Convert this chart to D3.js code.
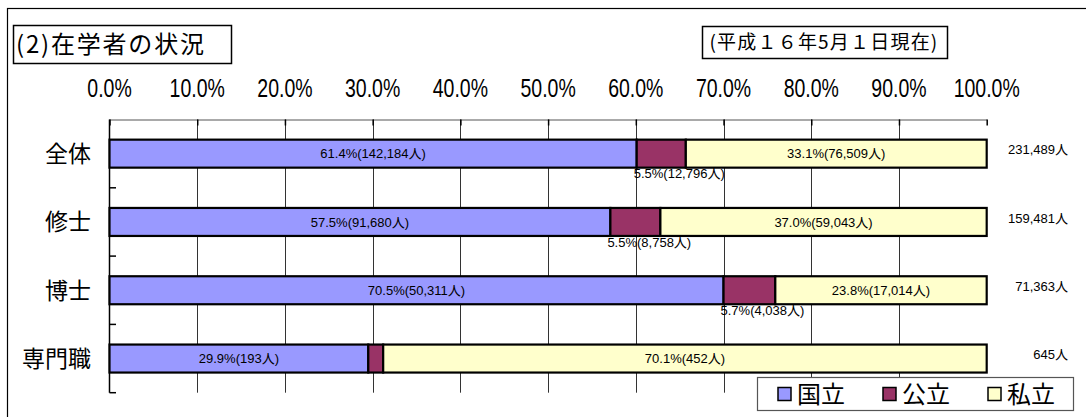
<!DOCTYPE html>
<html>
<head>
<meta charset="utf-8">
<script src="https://cdn.jsdelivr.net/npm/d3@7"></script>
<style>
  body { margin: 0; background: #fff; }
  text { font-family: "Liberation Sans", Arial, "Noto Sans CJK JP", sans-serif; fill: #000; }
  .jp { font-family: "Noto Sans CJK JP", "Liberation Sans", sans-serif; }
</style>
</head>
<body>
<script>
// categories (top to bottom)
var categories = ["全体", "修士", "博士", "専門職"];

// bar shares as drawn (%)
var kokuritsu = [60.1, 57.1, 70.0, 29.5];
var kouritsu  = [5.6, 5.7, 5.9, 1.7];
var shiritsu  = [34.3, 37.2, 24.1, 68.8];

// data label texts
var kokuritsuLabel = ["61.4%(142,184人)", "57.5%(91,680人)", "70.5%(50,311人)", "29.9%(193人)"];
var kouritsuLabel  = ["5.5%(12,796人)", "5.5%(8,758人)", "5.7%(4,038人)", ""];
var shiritsuLabel  = ["33.1%(76,509人)", "37.0%(59,043人)", "23.8%(17,014人)", "70.1%(452人)"];
var totals = ["231,489人", "159,481人", "71,363人", "645人"];

var tickValues = [0, 10, 20, 30, 40, 50, 60, 70, 80, 90, 100];
var seriesNames = ["国立", "公立", "私立"];
var colors = ["#9999ff", "#993366", "#ffffcc"];

var W = 1086, H = 417;

var svg = d3.select("body").append("svg")
    .attr("width", W)
    .attr("height", H);

// outer frame
svg.append("rect")
    .attr("x", 7.5).attr("y", 8.5)
    .attr("width", 1200).attr("height", 600)
    .attr("fill", "none").attr("stroke", "#000").attr("stroke-width", 1.2);

// title box
svg.append("rect")
    .attr("x", 13.5).attr("y", 25.5).attr("width", 218).attr("height", 38)
    .attr("fill", "#fff").attr("stroke", "#000").attr("stroke-width", 1.5);
svg.append("text")
    .attr("class", "jp")
    .attr("x", 16).attr("y", 53)
    .attr("font-size", 24)
    .attr("letter-spacing", 1.8)
    .text("(2)在学者の状況");

// date box
svg.append("rect")
    .attr("x", 702.5).attr("y", 26.5).attr("width", 245).attr("height", 32)
    .attr("fill", "#fff").attr("stroke", "#000").attr("stroke-width", 1.5);
svg.append("text")
    .attr("class", "jp")
    .attr("x", 824).attr("y", 49)
    .attr("text-anchor", "middle")
    .attr("font-size", 19)
    .attr("letter-spacing", 1.2)
    .text("(平成１６年5月１日現在)");

// scales
var x = d3.scaleLinear()
    .domain([0, 100])
    .range([109.5, 986.7]);

var y = d3.scaleBand()
    .domain(categories)
    .range([119.5, 392.7])
    .paddingInner(0.59)
    .paddingOuter(0.295);

var step = y.step();

// vertical gridlines
svg.append("g").selectAll("line")
    .data(tickValues.filter(function(d) { return d > 0 && d < 100; }))
  .enter().append("line")
    .attr("x1", function(d) { return Math.round(x(d)) + 0.5; })
    .attr("x2", function(d) { return Math.round(x(d)) + 0.5; })
    .attr("y1", 119.5).attr("y2", 392.7)
    .attr("stroke", "#333").attr("stroke-width", 1);

// top axis with inward ticks
var topAxis = svg.append("g")
    .attr("transform", "translate(0,119.5)")
    .call(d3.axisTop(x).tickValues(tickValues).tickSizeInner(-6).tickSizeOuter(0).tickFormat(""));
topAxis.select(".domain").attr("stroke", "#555");
topAxis.selectAll(".tick line").attr("stroke", "#000").attr("stroke-width", 1.5);

// axis labels (condensed like the original)
svg.append("g").selectAll("g")
    .data(tickValues)
  .enter().append("g")
    .attr("transform", function(d) { return "translate(" + x(d) + ",97)"; })
  .append("text")
    .attr("transform", "scale(0.78,1)")
    .attr("text-anchor", "middle")
    .attr("font-size", 25)
    .text(function(d) { return d.toFixed(1) + "%"; });

// left axis line and ticks
svg.append("line")
    .attr("x1", 109.5).attr("x2", 109.5)
    .attr("y1", 119.5).attr("y2", 392.7)
    .attr("stroke", "#000").attr("stroke-width", 1.5);
svg.append("g").selectAll("line")
    .data(categories)
  .enter().append("line")
    .attr("x1", 109.5).attr("x2", 116)
    .attr("y1", function(d) { return y(d) - y.paddingOuter() * step + step; })
    .attr("y2", function(d) { return y(d) - y.paddingOuter() * step + step; })
    .attr("stroke", "#000").attr("stroke-width", 1.5);

// category labels
svg.append("g").selectAll("text")
    .data(categories)
  .enter().append("text")
    .attr("class", "jp")
    .attr("x", 91)
    .attr("y", function(d) { return y(d) + y.bandwidth() / 2; })
    .attr("dy", "0.36em")
    .attr("text-anchor", "end")
    .attr("font-size", 23)
    .text(function(d) { return d; });

// stacked rows
var rows = categories.map(function(c, i) {
  var vals = [kokuritsu[i], kouritsu[i], shiritsu[i]];
  var s = 0;
  return vals.map(function(v, k) {
    var seg = { cat: c, k: k, x0: s, x1: s + v };
    s += v;
    return seg;
  });
});

var bars = svg.append("g");
rows.forEach(function(row) {
  bars.selectAll(null)
      .data(row)
    .enter().append("rect")
      .attr("x", function(d) { return x(d.x0); })
      .attr("y", function(d) { return y(d.cat); })
      .attr("width", function(d) { return x(d.x1) - x(d.x0); })
      .attr("height", y.bandwidth())
      .attr("fill", function(d) { return colors[d.k]; })
      .attr("stroke", "#000")
      .attr("stroke-width", 2.2);
});

// data labels
var labels = svg.append("g").attr("font-size", 13);
rows.forEach(function(row, i) {
  var cy = y(row[0].cat) + y.bandwidth() / 2;
  labels.append("text")
      .attr("x", (x(row[0].x0) + x(row[0].x1)) / 2)
      .attr("y", cy).attr("dy", "0.36em")
      .attr("text-anchor", "middle")
      .text(kokuritsuLabel[i]);
  labels.append("text")
      .attr("x", x(row[1].x0) - 3)
      .attr("y", y(row[1].cat) + y.bandwidth() + 6).attr("dy", "0.36em")
      .attr("text-anchor", "start")
      .text(kouritsuLabel[i]);
  labels.append("text")
      .attr("x", (x(row[2].x0) + x(row[2].x1)) / 2)
      .attr("y", cy).attr("dy", "0.36em")
      .attr("text-anchor", "middle")
      .text(shiritsuLabel[i]);
  labels.append("text")
      .attr("x", 1068)
      .attr("y", cy - 4).attr("dy", "0.36em")
      .attr("text-anchor", "end")
      .text(totals[i]);
});

// legend
var legend = svg.append("g");
legend.append("rect")
    .attr("x", 757.5).attr("y", 377.5).attr("width", 316).attr("height", 33)
    .attr("fill", "#fff").attr("stroke", "#555").attr("stroke-width", 1.2);
var legendX = [778, 883, 988];
seriesNames.forEach(function(name, k) {
  legend.append("rect")
      .attr("x", legendX[k]).attr("y", 387.5).attr("width", 13).attr("height", 13)
      .attr("fill", colors[k]).attr("stroke", "#000").attr("stroke-width", 1.5);
  legend.append("text")
      .attr("class", "jp")
      .attr("x", legendX[k] + 19).attr("y", 394).attr("dy", "0.36em")
      .attr("font-size", 24)
      .text(name);
});
</script>
</body>
</html>
